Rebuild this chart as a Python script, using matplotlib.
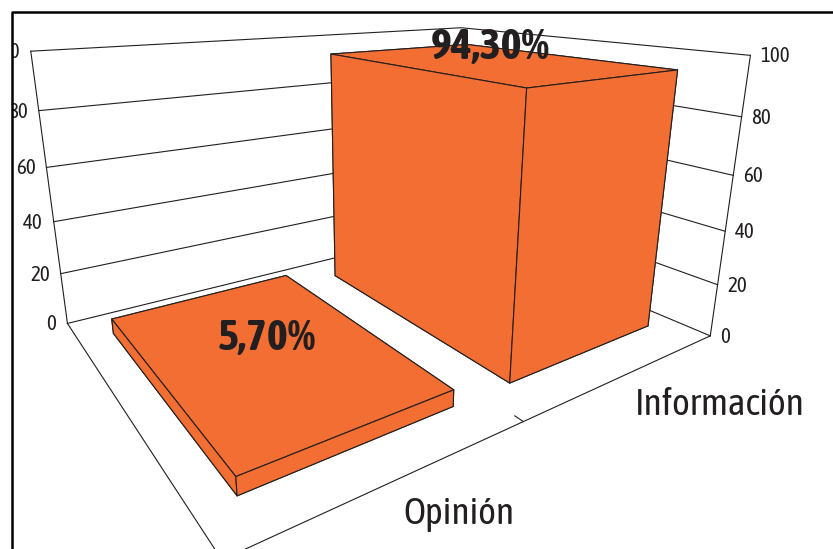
import matplotlib
matplotlib.use('Agg')
import matplotlib.pyplot as plt
from matplotlib.lines import Line2D
from matplotlib.patches import Rectangle

# datos
categories = ['Opinión', 'Información']
values = [5.7, 94.3]
value_labels = ['5,70%', '94,30%']
z_ticks = [0, 20, 40, 60, 80, 100]

ORANGE = '#F36E32'
DARK = '#231F20'
W, H = 833, 549

plt.rcParams['font.family'] = ['Asap Condensed', 'DejaVu Sans']

fig = plt.figure(figsize=(W / 100, H / 100), dpi=100)

# camara ajustada a las esquinas de las paredes
ax = fig.add_axes([-129.5 / W, -163.7 / H, 1000 / W, 1000 / H], projection='3d',
                  computed_zorder=False)
ax.set_xlim(0, len(categories))
ax.set_ylim(0, 1)
ax.set_zlim(0, 100)
ax.view_init(17.062, -124.977, -0.095)
ax.set_box_aspect((1.879, 1.425, 1), zoom=0.7164)
ax.set_proj_type('persp', focal_length=0.13882)
ax.set_axis_off()
M = ax.get_proj()


def project(x, y, z):
    p = M @ [x, y, z, 1]
    return p[0] / p[3], p[1] / p[3]


def label(text, x, y, z, dx, dy, **kw):
    ax.annotate(text, project(x, y, z), xytext=(dx, dy), textcoords='offset pixels',
                color=DARK, va='center', zorder=5, **kw)


n = len(categories)
line = dict(color=DARK, lw=0.8, zorder=1)

# paredes y suelo
for z in z_ticks:
    ax.plot([0, n, n], [1, 1, 0], [z, z, z], **line)
ax.plot([0, 0], [1, 1], [0, 100], **line)
ax.plot([n, n], [0, 0], [0, 100], **line)
ax.plot([0, 0, n], [1, 0, 0], [0, 0, 0], **line)
ax.plot([1, 1], [0, 0.025], [0, 0], **line)

# barras
for i, v in enumerate(values):
    ax.bar3d(i + 0.125, 0.125, 0, 0.75, 0.75, v, color=ORANGE, edgecolor=DARK,
             linewidth=0.8, shade=False, zorder=2 + i / 10)

# etiquetas de los ejes
for z in z_ticks:
    label(str(z), 0, 1, z, -11, -1, ha='right', fontsize=15)
    label(str(z), n, 0, z, 10, -1, ha='left', fontsize=15)

label(categories[0], 0.5, 0, 0, 66, -32, ha='center', fontsize=27)
label(categories[1], 1.5, 0, 0, 93, -31, ha='center', fontsize=27)
label(value_labels[0], 0.5, 0.5, values[0], 0, 13, ha='center', fontsize=32, fontweight='bold')
label(value_labels[1], 1.5, 0.5, values[1], 0, 14, ha='center', fontsize=32, fontweight='bold')

# marco
fig.add_artist(Rectangle((0, 0), 11 / W, 1, transform=fig.transFigure, color='white', zorder=9))
fig.add_artist(Line2D([11.5 / W, 11.5 / W, 1], [0, 1 - 11.5 / H, 1 - 11.5 / H],
                      transform=fig.transFigure, color='black', lw=1.8, zorder=10))

fig.savefig('out.png', dpi=100)
